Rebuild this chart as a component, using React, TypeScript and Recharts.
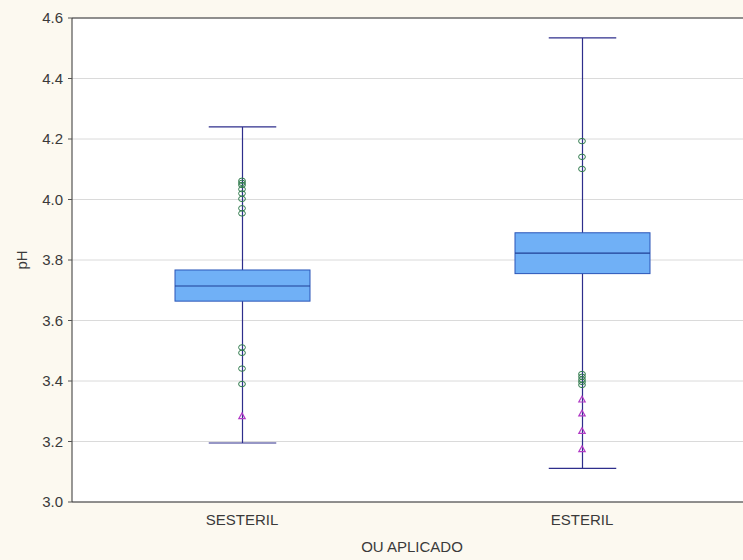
import React from "react";
import {
  ComposedChart,
  Bar,
  Scatter,
  XAxis,
  YAxis,
  CartesianGrid,
  ReferenceLine,
} from "recharts";

// pH by treatment group
const groups = ["SESTERIL", "ESTERIL"];
const whiskerLow = [3.195, 3.111];
const quartile1 = [3.664, 3.755];
const medians = [3.714, 3.823];
const quartile3 = [3.767, 3.89];
const whiskerHigh = [4.24, 4.534];

const outliersSesteril = [4.062, 4.055, 4.048, 4.034, 4.02, 4.002, 3.971, 3.954, 3.511, 3.493, 3.441, 3.39];
const extremesSesteril = [3.284];
const outliersEsteril = [4.193, 4.141, 4.101, 3.423, 3.414, 3.405, 3.397, 3.387];
const extremesEsteril = [3.339, 3.293, 3.235, 3.175];

const yTicks = [3.0, 3.2, 3.4, 3.6, 3.8, 4.0, 4.2, 4.4, 4.6];

const boxes = groups.map((name, i) => ({
  name,
  low: whiskerLow[i],
  q1: quartile1[i],
  median: medians[i],
  q3: quartile3[i],
  high: whiskerHigh[i],
}));

const outlierPoints = [
  ...outliersSesteril.map((v) => ({ name: groups[0], value: v })),
  ...outliersEsteril.map((v) => ({ name: groups[1], value: v })),
];
const extremePoints = [
  ...extremesSesteril.map((v) => ({ name: groups[0], value: v })),
  ...extremesEsteril.map((v) => ({ name: groups[1], value: v })),
];

const WHISKER = "#2e2e8c";
const BOX_FILL = "#70b0f6";
const BOX_EDGE = "#2a55b8";
const FONT = "Liberation Sans, Arial, sans-serif";

// whisker + box + median, positioned inside the [low, high] range bar
function BoxShape(props: any) {
  const { x, y, width, height, payload } = props;
  const span = payload.high - payload.low;
  const toPx = (v: number) => y + (height * (payload.high - v)) / span;
  const cx = x + width / 2;
  const cap = width / 4;
  const top = toPx(payload.q3);
  const bottom = toPx(payload.q1);
  const med = toPx(payload.median);
  return (
    <g>
      <line x1={cx} x2={cx} y1={y} y2={y + height} stroke={WHISKER} strokeWidth={1.2} />
      <line x1={cx - cap} x2={cx + cap} y1={y} y2={y} stroke={WHISKER} strokeWidth={1.2} />
      <line x1={cx - cap} x2={cx + cap} y1={y + height} y2={y + height} stroke={WHISKER} strokeWidth={1.2} />
      <rect x={x} y={top} width={width} height={bottom - top} fill={BOX_FILL} stroke={BOX_EDGE} strokeWidth={1} />
      <line x1={x} x2={x + width} y1={med} y2={med} stroke="#1f3f95" strokeWidth={1.2} />
    </g>
  );
}

function OutlierMark(props: any) {
  const { cx, cy } = props;
  return <ellipse cx={cx} cy={cy} rx={3.4} ry={2.7} fill="none" stroke="#2f7a4c" strokeWidth={1} />;
}

function ExtremeMark(props: any) {
  const { cx, cy } = props;
  const s = 3.2;
  return (
    <path
      d={`M${cx},${cy - s} L${cx + s},${cy + s * 0.8} L${cx - s},${cy + s * 0.8} Z`}
      fill="none"
      stroke="#b23cc6"
      strokeWidth={1.2}
    />
  );
}

const tickStyle = { fontSize: 15, fill: "#3a3a3a", fontFamily: FONT };

export default function App() {
  return (
    <div
      style={{
        position: "fixed",
        left: 0,
        top: 0,
        width: 743,
        height: 560,
        overflow: "hidden",
        background: "#fcf9f0",
      }}
    >
      <ComposedChart
        width={760}
        height={560}
        data={boxes}
        margin={{ top: 18, right: 8, left: 20, bottom: 0 }}
      >
        <CartesianGrid vertical={false} stroke="#dadada" fill="#ffffff" />
        <XAxis
          dataKey="name"
          type="category"
          allowDuplicatedCategory={false}
          height={58}
          tickLine={false}
          tickSize={4}
          tickMargin={8}
          axisLine={{ stroke: "#333" }}
          tick={tickStyle}
          label={{
            value: "OU APLICADO",
            position: "insideBottom",
            offset: 8,
            style: { fontSize: 15, fill: "#3a3a3a", fontFamily: FONT },
          }}
        />
        <YAxis
          type="number"
          domain={[3.0, 4.6]}
          ticks={yTicks}
          width={52}
          interval={0}
          tickFormatter={(v: number) => v.toFixed(1)}
          tickSize={4}
          tickMargin={5}
          tickLine={{ stroke: "#555" }}
          axisLine={{ stroke: "#333" }}
          tick={tickStyle}
          label={{
            value: "pH",
            angle: -90,
            position: "center",
            dx: -24,
            style: { fontSize: 15, fill: "#3a3a3a", fontFamily: FONT },
          }}
        />
        <ReferenceLine y={4.6} stroke="#333" />
        <Bar
          dataKey={(d: any) => [d.low, d.high]}
          barSize={135}
          shape={BoxShape}
          isAnimationActive={false}
        />
        <Scatter data={outlierPoints} dataKey="value" shape={OutlierMark} isAnimationActive={false} />
        <Scatter data={extremePoints} dataKey="value" shape={ExtremeMark} isAnimationActive={false} />
      </ComposedChart>
    </div>
  );
}
